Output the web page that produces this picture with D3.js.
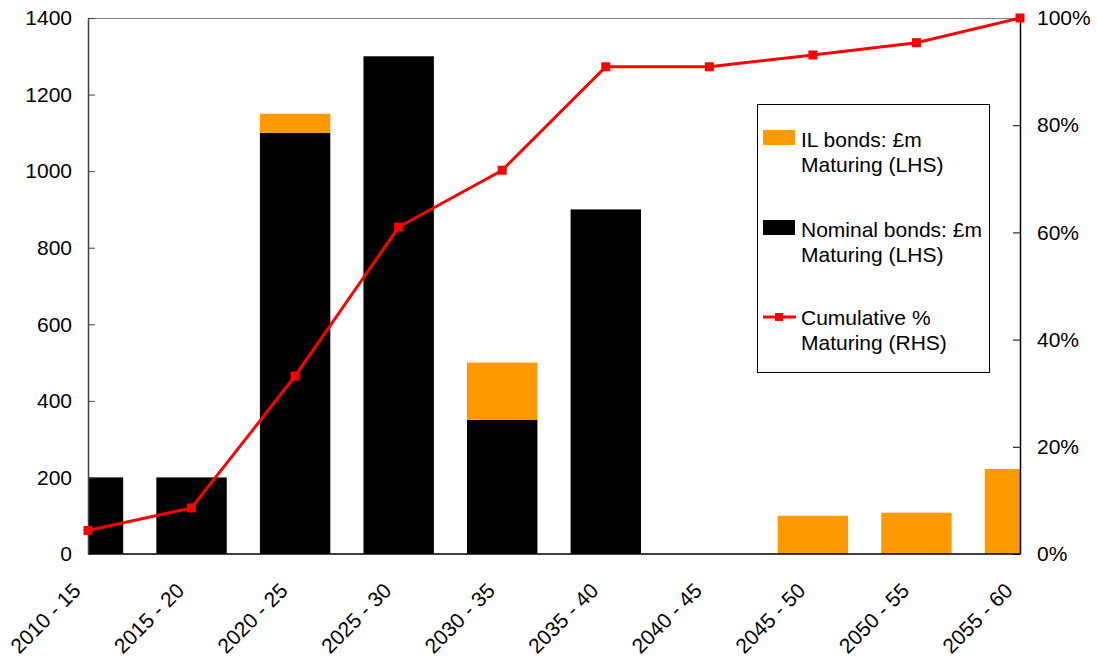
<!DOCTYPE html>
<html><head><meta charset="utf-8">
<script src="https://cdn.jsdelivr.net/npm/d3@7"></script>
<style>body{margin:0;background:#fff}svg{display:block;font-family:"Liberation Sans",Arial,sans-serif}</style>
</head><body><svg id="c" width="1097" height="658"></svg>
<script>
const categories = ["2010 - 15","2015 - 20","2020 - 25","2025 - 30","2030 - 35","2035 - 40","2040 - 45","2045 - 50","2050 - 55","2055 - 60"];
const nominal = [200,200,1100,1300,350,900,0,0,0,0];
const ilBonds = [0,0,50,0,150,0,0,100,108,222];
const cumulative = [4.4,8.6,33.2,61.0,71.6,90.9,90.9,93.1,95.4,100];
const leftTicks = [0,200,400,600,800,1000,1200,1400];
const rightTicks = [0,20,40,60,80,100];

const FS = 21;
const svg = d3.select("#c");
const L = 88, R = 1020, T = 18, B = 554;
const x = d3.scalePoint().domain(categories).range([L, R]);
const yL = d3.scaleLinear().domain([0,1400]).range([B, T]);
const yR = d3.scaleLinear().domain([0,100]).range([B, T]);
const bw = x.step() * 0.68;

svg.append("defs").append("clipPath").attr("id","plot")
  .append("rect").attr("x",L).attr("y",T).attr("width",R-L).attr("height",B-T);

const bars = svg.append("g").attr("clip-path","url(#plot)");
const rows = categories.map((c,i)=>({c, n:nominal[i], il:ilBonds[i]}));
bars.selectAll("rect.nom").data(rows.filter(d=>d.n>0)).join("rect")
  .attr("x",d=>x(d.c)-bw/2).attr("width",bw)
  .attr("y",d=>yL(d.n)).attr("height",d=>yL(0)-yL(d.n)).attr("fill","#000");
bars.selectAll("rect.il").data(rows.filter(d=>d.il>0)).join("rect")
  .attr("x",d=>x(d.c)-bw/2).attr("width",bw)
  .attr("y",d=>yL(d.n+d.il)).attr("height",d=>yL(d.n)-yL(d.n+d.il)).attr("fill","#FF9900");

// frame lines
svg.append("line").attr("x1",L).attr("x2",R).attr("y1",T+0.5).attr("y2",T+0.5).attr("stroke","#808080");
svg.append("line").attr("x1",L).attr("x2",R).attr("y1",B).attr("y2",B).attr("stroke","#000").attr("stroke-width",1.5);

// left axis
const la = svg.append("g").attr("transform",`translate(${L},0)`)
  .call(d3.axisLeft(yL).tickValues(leftTicks).tickFormat(d3.format("d")).tickSizeInner(-7).tickSizeOuter(0).tickPadding(16));
la.select(".domain").attr("stroke","#404040").attr("stroke-width",1.5);
la.selectAll(".tick line").attr("stroke","#404040");
la.selectAll("text").attr("font-size",FS).attr("fill","#000");

// right axis
const ra = svg.append("g").attr("transform",`translate(${R},0)`)
  .call(d3.axisRight(yR).tickValues(rightTicks).tickFormat(d=>d+"%").tickSizeInner(-7).tickSizeOuter(0).tickPadding(17));
ra.select(".domain").attr("stroke","#000").attr("stroke-width",1.5);
ra.selectAll(".tick line").attr("stroke","#000");
ra.selectAll("text").attr("font-size",FS).attr("fill","#000");

// x labels
svg.append("g").selectAll("text").data(categories).join("text")
  .attr("transform",d=>`translate(${x(d)-6},592) rotate(-45)`)
  .attr("text-anchor","end").attr("font-size",FS).attr("fill","#000").text(d=>d);

// line
const pts = categories.map((c,i)=>[x(c), yR(cumulative[i])]);
svg.append("path").attr("d", d3.line()(pts)).attr("fill","none").attr("stroke","#FF0000").attr("stroke-width",3);
svg.append("g").selectAll("rect").data(pts).join("rect")
  .attr("x",d=>d[0]-4.5).attr("y",d=>d[1]-4.5).attr("width",9).attr("height",9).attr("fill","#FF0000");

// legend
const lg = svg.append("g");
lg.append("rect").attr("x",757.5).attr("y",104.5).attr("width",232).attr("height",268)
  .attr("fill","#fff").attr("stroke","#000").attr("stroke-width",1);
const legendItems = [
  {type:"bar", color:"#FF9900", lines:["IL bonds: £m","Maturing (LHS)"], y:147},
  {type:"bar", color:"#000", lines:["Nominal bonds: £m","Maturing (LHS)"], y:237},
  {type:"line", color:"#FF0000", lines:["Cumulative %","Maturing (RHS)"], y:325}
];
legendItems.forEach(it=>{
  if(it.type==="bar"){
    lg.append("rect").attr("x",763).attr("y",it.y-17).attr("width",32).attr("height",15).attr("fill",it.color);
  } else {
    lg.append("line").attr("x1",763).attr("x2",796).attr("y1",it.y-8).attr("y2",it.y-8).attr("stroke",it.color).attr("stroke-width",3);
    lg.append("rect").attr("x",775).attr("y",it.y-12).attr("width",8).attr("height",8).attr("fill",it.color);
  }
  it.lines.forEach((t,j)=>{
    lg.append("text").attr("x",801).attr("y",it.y+j*24.5).attr("font-size",FS).attr("fill","#000").text(t);
  });
});
</script></body></html>
